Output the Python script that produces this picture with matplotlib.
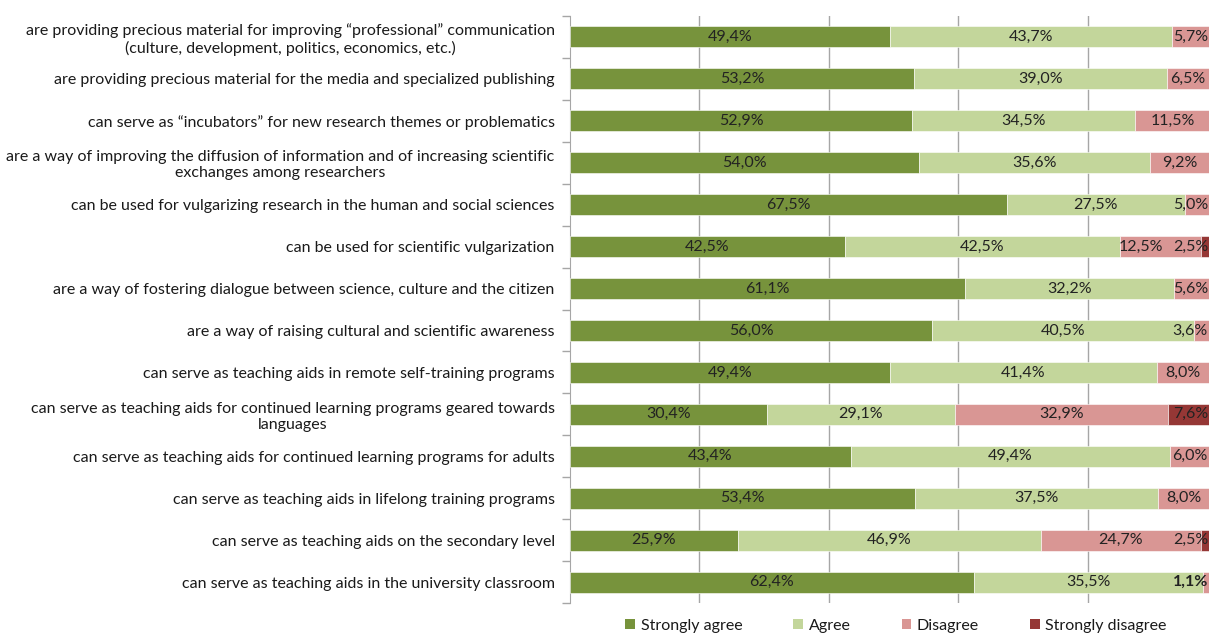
import matplotlib
matplotlib.use("Agg")
import matplotlib.pyplot as plt
from matplotlib.patches import Patch
import numpy as np

plt.rcParams['font.family'] = ['Lato', 'DejaVu Sans']

categories = [
    "are providing precious material for improving \u201cprofessional\u201d communication\n(culture, development, politics, economics, etc.)",
    "are providing precious material for the media and specialized publishing",
    "can serve as \u201cincubators\u201d for new research themes or problematics",
    "are a way of improving the diffusion of information and of increasing scientific\nexchanges among researchers",
    "can be used for vulgarizing research in the human and social sciences",
    "can be used for scientific vulgarization",
    "are a way of fostering dialogue between science, culture and the citizen",
    "are a way of raising cultural and scientific awareness",
    "can serve as teaching aids in remote self-training programs",
    "can serve as teaching aids for continued learning programs geared towards\nlanguages",
    "can serve as teaching aids for continued learning programs for adults",
    "can serve as teaching aids in lifelong training programs",
    "can serve as teaching aids on the secondary level",
    "can serve as teaching aids in the university classroom",
]
strongly_agree = [49.4, 53.2, 52.9, 54.0, 67.5, 42.5, 61.1, 56.0, 49.4, 30.4, 43.4, 53.4, 25.9, 62.4]
agree = [43.7, 39.0, 34.5, 35.6, 27.5, 42.5, 32.2, 40.5, 41.4, 29.1, 49.4, 37.5, 46.9, 35.5]
disagree = [5.7, 6.5, 11.5, 9.2, 5.0, 12.5, 5.6, 3.6, 8.0, 32.9, 6.0, 8.0, 24.7, 1.1]
strongly_disagree = [0, 0, 0, 0, 0, 2.5, 0, 0, 0, 7.6, 0, 0, 2.5, 0]

series_names = ["Strongly agree", "Agree", "Disagree", "Strongly disagree"]
colors = ["#77933C", "#C3D69B", "#D99694", "#953735"]

FS = 11.5
W, H = 1209, 634
fig = plt.figure(figsize=(W / 100, H / 100), dpi=100)
ax = fig.add_axes([570 / W, (634 - 603) / H, 647 / W, 587 / H])

y = np.arange(len(categories))
left = np.zeros(len(categories))
row_texts = [[] for _ in categories]
for name, vals, col in zip(series_names, [strongly_agree, agree, disagree, strongly_disagree], colors):
    vals = np.array(vals, dtype=float)
    ax.barh(y, vals, left=left, height=0.5, color=col, edgecolor='white', linewidth=0.4, zorder=3, label=name)
    for i, v in enumerate(vals):
        if v <= 0:
            continue
        c = left[i] + v / 2
        txt = f"{v:.1f}%".replace('.', ',')
        fw = 'bold' if (name == "Disagree" and v == 1.1) else 'normal'
        t = ax.text(c, i, txt, ha='center', va='center', fontsize=FS, color='#222222', zorder=4, fontweight=fw)
        row_texts[i].append(t)
    left += vals

ax.set_xlim(0, 100)
ax.set_ylim(len(categories) - 0.5, -0.5)
ax.set_xticks([20, 40, 60, 80, 100])
ax.set_xticklabels([])
ax.tick_params(axis='x', length=0)
ax.grid(axis='x', color='#A6A6A6', linewidth=1, zorder=0)

ax.set_yticks(y)
ax.set_yticklabels(categories, fontsize=FS, color='#1a1a1a')
for t in ax.get_yticklabels():
    t.set_multialignment('center')
ax.set_yticks(np.arange(-0.5, len(categories)), minor=True)
ax.tick_params(axis='y', which='major', length=0, pad=11)
ax.tick_params(axis='y', which='minor', length=6, color='#A6A6A6', width=1)

for s in ['top', 'right', 'bottom']:
    ax.spines[s].set_visible(False)
ax.spines['left'].set_color('#A6A6A6')

handles = [Patch(facecolor=c, edgecolor='none') for c in colors]
fig.legend(handles, series_names, loc='center', bbox_to_anchor=(896 / W, 1 - 626 / H),
           ncol=4, frameon=False, fontsize=FS, handlelength=0.6, handleheight=0.6,
           handletextpad=0.35, columnspacing=3.2, labelcolor='#1a1a1a')

# keep value labels inside the visible area and avoid overlaps (as the original does)
fig.canvas.draw()
renderer = fig.canvas.get_renderer()
px_per_unit = 647 / 100.0
for texts in row_texts:
    limit = W - 1
    for t in reversed(texts):
        bb = t.get_window_extent(renderer)
        if bb.x1 > limit:
            shift = (bb.x1 - limit) / px_per_unit
            x0, y0 = t.get_position()
            t.set_position((x0 - shift, y0))
            bb = t.get_window_extent(renderer)
        limit = bb.x0 - 10

fig.savefig("out.png", dpi=100)
